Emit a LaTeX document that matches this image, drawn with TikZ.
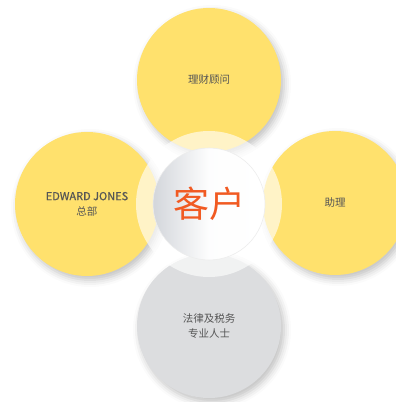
\documentclass[tikz,border=0pt]{standalone}
\usepackage{fontspec}
\newfontfamily\cjk{Noto Sans CJK SC}
\newfontfamily\cjkm[FakeBold=0.6]{Noto Sans CJK SC}
\usetikzlibrary{shadows.blur}
\definecolor{yel}{HTML}{FFE16D}
\definecolor{gry}{HTML}{DCDDDF}
\definecolor{txt}{HTML}{555555}
\definecolor{org}{HTML}{F15A22}
\definecolor{cshade}{HTML}{D3D6DB}
\tikzset{
  outer/.style={circle, minimum size=144pt, inner sep=0pt, align=center,
    text=txt, font=\cjk\fontsize{10.5}{15}\selectfont,
    blur shadow={shadow xshift=3pt, shadow yshift=-4pt, shadow blur radius=7pt, shadow opacity=25}},
  halo/.style={circle, minimum size=146pt, inner sep=0pt, fill=white, fill opacity=0.62},
  centre/.style={circle, minimum size=112pt, inner sep=0pt, text=org,
    draw=black!7, line width=0.6pt,
    left color=cshade, right color=white, middle color=white!96!cshade,
    font=\cjk\fontsize{36}{40}\selectfont}
}
\begin{document}
\begin{tikzpicture}[x=1pt,y=1pt]
\useasboundingbox (0,0) rectangle (396,402);
\clip (0,0) rectangle (396,402);
\node[outer, fill=yel] (advisor) at (209,322) {理财顾问};
\node[outer, fill=yel] (hq) at (87,198) {{\cjkm\fontsize{11}{15}\selectfont EDWARD JONES}\\总部};
\node[outer, fill=yel] (assistant) at (335,199) {助理};
\node[outer, fill=gry] (legal) at (209,76) {法律及税务\\专业人士};
\node[halo] (glow) at (209,198) {};
\node[centre] (client) at (209,198) {客户};
\end{tikzpicture}
\end{document}
